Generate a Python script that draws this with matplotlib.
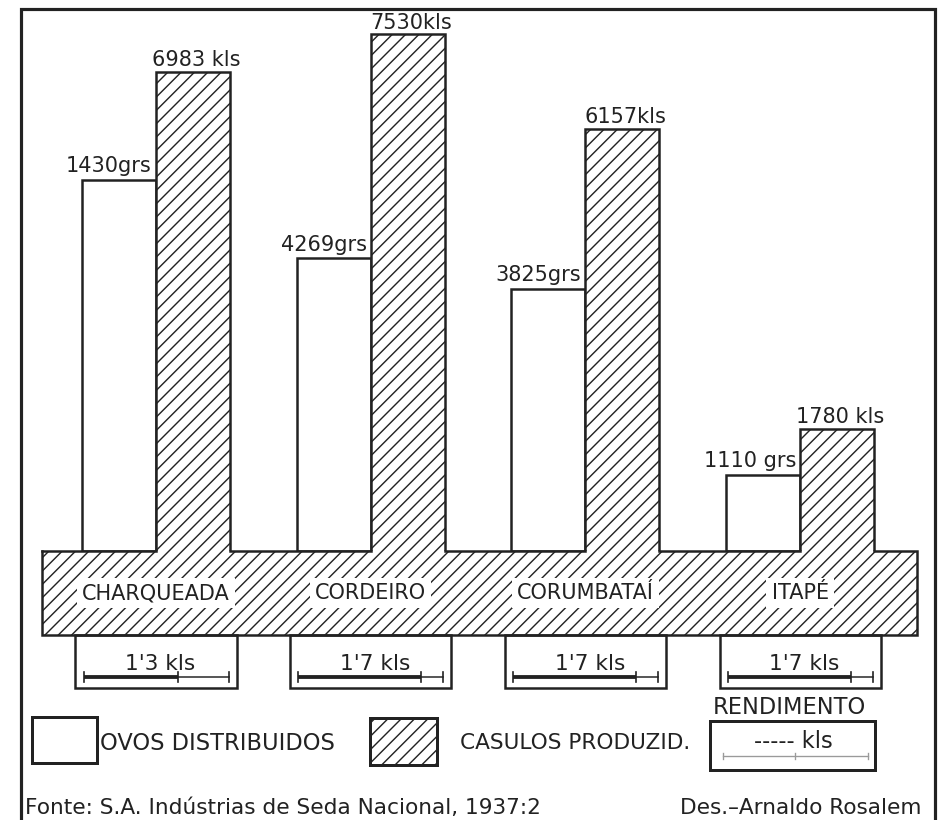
import numpy as np
import matplotlib
matplotlib.use("Agg")
import matplotlib.pyplot as plt
from matplotlib.patches import Rectangle
from matplotlib import transforms

# ---------------- data ----------------
municipios = ["CHARQUEADA", "CORDEIRO", "CORUMBATAÍ", "ITAPÉ"]
ovos_grs = [1430, 4269, 3825, 1110]          # ovos distribuidos (grs) - printed values
ovos_bar_height = [5410, 4269, 3825, 1110]   # heights as drawn (1st bar drawn out of scale in original)
casulos_kls = [6983, 7530, 6157, 1780]       # casulos produzidos (kls)
rendimento_kls = [1.3, 1.7, 1.7, 1.7]        # rendimento (kls)
ovos_fmt = ["{}grs", "{}grs", "{}grs", "{} grs"]
casulos_fmt = ["{} kls", "{}kls", "{}kls", "{} kls"]

# ---------------- style / layout ----------------
INK = "#222222"
HATCH = "///"
W, H, DPI = 942, 820, 120
plt.rcParams["font.family"] = ["DejaVu Sans"]
plt.rcParams["hatch.linewidth"] = 0.85
plt.rcParams["hatch.color"] = INK

fig = plt.figure(figsize=(W / DPI, H / DPI), dpi=DPI)
fig.patch.set_facecolor("white")

# data axes (category units in x, kls in y)
ax = fig.add_axes([0, 0, 1, 1])
ax.set_axis_off()
px_per_cat = 214.7
x0_px = 156.0
ax.set_xlim(-x0_px / px_per_cat, (W - x0_px) / px_per_cat)
base_px = 551.0
units_per_px = 1 / 0.0686
ax.set_ylim(-(H - base_px) * units_per_px, base_px * units_per_px)

# decoration axes in pixel coordinates
deco = fig.add_axes([0, 0, 1, 1])
deco.set_xlim(0, W)
deco.set_ylim(H, 0)
deco.set_axis_off()
deco.patch.set_alpha(0)
bt = transforms.blended_transform_factory(ax.transData, deco.transData)

xs = np.arange(len(municipios))
bw = 0.345
LW = 1.5

# bars
ax.bar(xs - bw / 2, ovos_bar_height, width=bw, facecolor="white",
       edgecolor=INK, linewidth=LW, zorder=2)
ax.bar(xs + bw / 2, casulos_kls, width=bw, facecolor="white",
       edgecolor=INK, linewidth=0, hatch=HATCH, zorder=2)
for x, v in zip(xs, casulos_kls):
    ax.plot([x, x, x + bw, x + bw], [0, v, v, 0], color=INK, lw=LW,
            solid_joinstyle="miter", zorder=3)

# value labels
for x, v, h, f in zip(xs, ovos_grs, ovos_bar_height, ovos_fmt):
    ax.annotate(f.format(v), (x, h), xytext=(-2.5, 4.5), textcoords="offset points",
                ha="right", va="baseline", fontsize=12.5, color=INK)
for x, v, f in zip(xs, casulos_kls, casulos_fmt):
    ax.annotate(f.format(v), (x + bw / 2, v), xytext=(2, 3.5), textcoords="offset points",
                ha="center", va="baseline", fontsize=12.5, color=INK)

# base band (hatched) with names
band_l, band_r = xs[0] - 0.53, xs[-1] + 0.545
band_top, band_bot = 551, 635
deco.add_patch(Rectangle((band_l, band_top - 0.5), band_r - band_l, band_bot - band_top + 0.5,
                         transform=bt, facecolor="white", edgecolor=INK, linewidth=0,
                         hatch=HATCH, zorder=1))
deco.plot([band_l, band_l, band_r, band_r, xs[-1] + bw],
          [band_top, band_bot, band_bot, band_top, band_top],
          transform=bt, color=INK, lw=LW, solid_joinstyle="miter", zorder=3)
gap_l = [band_l] + list(xs[:-1] + bw)
gap_r = list(xs)
for a, b in zip(gap_l, gap_r):
    deco.plot([a, b], [band_top, band_top], transform=bt, color=INK, lw=LW, zorder=3)
for x, name in zip(xs, municipios):
    deco.text(x, 593, name, transform=bt, ha="center", va="center", fontsize=12.5,
              color=INK, zorder=4,
              bbox=dict(boxstyle="square,pad=0.25", facecolor="white", edgecolor="none"))

# rendimento boxes
kl_unit = 72.5 / px_per_cat
for x, r in zip(xs, rendimento_kls):
    deco.add_patch(Rectangle((x - 0.375, band_bot), 0.75, 53, transform=bt,
                             facecolor="white", edgecolor=INK, linewidth=LW, zorder=2))
    deco.text(x + 0.02, 664, ("%.1f" % r).replace(".", "'") + " kls", transform=bt,
              ha="center", va="center", fontsize=13, color=INK, zorder=4)
    s = x - kl_unit
    m = s + r * kl_unit
    e = s + 2 * kl_unit
    deco.plot([s, m], [677, 677], transform=bt, color=INK, lw=2.3, zorder=4,
              solid_capstyle="butt")
    deco.plot([m, e], [677, 677], transform=bt, color=INK, lw=0.9, zorder=4)
    for t in (s, m, e):
        deco.plot([t, t], [672, 682], transform=bt, color=INK, lw=1.0, zorder=4)

# legend
deco.add_patch(Rectangle((32, 717), 65, 46, facecolor="white", edgecolor=INK, linewidth=1.8))
deco.text(100, 743, "OVOS DISTRIBUIDOS", ha="left", va="center", fontsize=13.5, color=INK)
deco.add_patch(Rectangle((370, 718), 67, 47, facecolor="white", edgecolor=INK,
                         linewidth=1.8, hatch=HATCH))
deco.text(460, 743, "CASULOS PRODUZID.", ha="left", va="center", fontsize=13, color=INK)
deco.text(789, 708, "RENDIMENTO", ha="center", va="center", fontsize=13.5, color=INK)
deco.add_patch(Rectangle((710, 721), 165, 49, facecolor="white", edgecolor=INK, linewidth=1.8))
deco.text(793, 741, "----- kls", ha="center", va="center", fontsize=13.5, color=INK)
deco.plot([723, 868], [756, 756], color="#9a9a9a", lw=0.8)
for t in (723, 795, 868):
    deco.plot([t, t], [753, 759], color="#9a9a9a", lw=0.8)

# footer
deco.text(25, 808, "Fonte: S.A. Indústrias de Seda Nacional, 1937:2", ha="left",
          va="center", fontsize=13, color=INK)
deco.text(922, 808, "Des.–Arnaldo Rosalem", ha="right", va="center", fontsize=13, color=INK)

# frame
deco.plot([21, 21, 935, 935], [H + 5, 9, 9, H + 5], color=INK, lw=1.9,
          solid_joinstyle="miter", clip_on=False)

fig.savefig("out.png", dpi=DPI, facecolor="white")
